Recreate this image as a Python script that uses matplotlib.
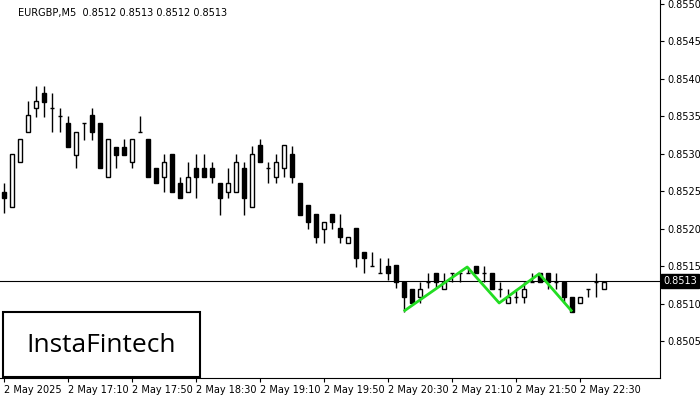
import matplotlib
matplotlib.use("Agg")
import matplotlib.pyplot as plt
from matplotlib.patches import Rectangle

opens = [0.85249,0.85229,0.85289,0.85329,0.85361,0.85381,0.85361,0.85351,0.85341,0.85299,
         0.85341,0.85351,0.85341,0.85269,0.85309,0.85309,0.85289,0.85329,0.85320,0.85281,
         0.85269,0.85300,0.85261,0.85249,0.85281,0.85281,0.85281,0.85261,0.85249,0.85249,
         0.85281,0.85229,0.85311,0.85281,0.85269,0.85281,0.85300,0.85261,0.85231,0.85220,
         0.85200,0.85220,0.85201,0.85181,0.85201,0.85169,0.85151,0.85141,0.85151,0.85151,
         0.85129,0.85120,0.85109,0.85129,0.85141,0.85120,0.85141,0.85141,0.85141,0.85151,
         0.85141,0.85141,0.85120,0.85101,0.85109,0.85109,0.85129,0.85141,0.85141,0.85129,
         0.85129,0.85109,0.85101,0.85120,0.85129,0.85120]
highs = [0.85261,0.85300,0.85320,0.85371,0.85391,0.85391,0.85381,0.85361,0.85351,0.85329,
         0.85341,0.85361,0.85341,0.85320,0.85309,0.85320,0.85320,0.85351,0.85320,0.85281,
         0.85300,0.85300,0.85269,0.85289,0.85300,0.85300,0.85289,0.85261,0.85281,0.85300,
         0.85289,0.85311,0.85320,0.85289,0.85300,0.85311,0.85311,0.85261,0.85231,0.85220,
         0.85209,0.85220,0.85220,0.85189,0.85201,0.85169,0.85169,0.85161,0.85161,0.85151,
         0.85129,0.85120,0.85129,0.85141,0.85141,0.85141,0.85141,0.85141,0.85149,0.85151,
         0.85151,0.85141,0.85129,0.85120,0.85120,0.85129,0.85141,0.85141,0.85141,0.85141,
         0.85129,0.85109,0.85109,0.85120,0.85141,0.85129]
lows = [0.85221,0.85229,0.85289,0.85329,0.85349,0.85349,0.85329,0.85329,0.85309,0.85281,
        0.85319,0.85319,0.85281,0.85269,0.85281,0.85299,0.85281,0.85329,0.85269,0.85261,
        0.85249,0.85249,0.85241,0.85249,0.85241,0.85269,0.85261,0.85219,0.85241,0.85249,
        0.85219,0.85229,0.85289,0.85261,0.85261,0.85269,0.85261,0.85219,0.85200,0.85181,
        0.85181,0.85200,0.85181,0.85181,0.85149,0.85141,0.85151,0.85141,0.85132,0.85121,
        0.85089,0.85101,0.85101,0.85121,0.85121,0.85120,0.85129,0.85129,0.85141,0.85141,
        0.85129,0.85120,0.85109,0.85101,0.85101,0.85101,0.85129,0.85129,0.85120,0.85120,
        0.85101,0.85089,0.85101,0.85109,0.85109,0.85120]
closes = [0.85241,0.85300,0.85320,0.85351,0.85371,0.85369,0.85361,0.85351,0.85309,0.85329,
          0.85341,0.85329,0.85281,0.85320,0.85299,0.85299,0.85320,0.85329,0.85269,0.85261,
          0.85289,0.85249,0.85241,0.85269,0.85269,0.85269,0.85269,0.85241,0.85261,0.85289,
          0.85241,0.85300,0.85289,0.85281,0.85289,0.85311,0.85269,0.85219,0.85209,0.85189,
          0.85209,0.85209,0.85189,0.85189,0.85161,0.85161,0.85151,0.85141,0.85141,0.85129,
          0.85109,0.85101,0.85120,0.85129,0.85129,0.85129,0.85141,0.85141,0.85141,0.85141,
          0.85141,0.85120,0.85120,0.85109,0.85109,0.85120,0.85129,0.85129,0.85129,0.85129,
          0.85109,0.85089,0.85109,0.85120,0.85129,0.85129]

pattern_idx = [50.1, 57.9, 61.9, 66.9, 70.9]
pattern_px = [0.85091, 0.85149, 0.85101, 0.85140, 0.85091]

current_price = 0.8513
yticks = [0.8505,0.8510,0.8515,0.8520,0.8525,0.8530,0.8535,0.8540,0.8545,0.8550]
xtick_idx = [0,8,16,24,32,40,48,56,64,72]
xtick_labels = ["2 May 2025","2 May 17:10","2 May 17:50","2 May 18:30","2 May 19:10",
                "2 May 19:50","2 May 20:30","2 May 21:10","2 May 21:50","2 May 22:30"]
title = "EURGBP,M5  0.8512 0.8513 0.8512 0.8513"

fig = plt.figure(figsize=(7,4), dpi=100)
ax = fig.add_axes([0, 22/400, 660/700, 378/400])
ax.set_xlim(-0.5, 82)
ax.set_ylim(0.85001, 0.85505)

w = 0.6
for i,(o,h,l,c) in enumerate(zip(opens,highs,lows,closes)):
    ax.vlines(i, l, h, color='black', lw=1, zorder=2)
    if abs(o-c) < 1e-6:
        ax.hlines(o, i-w/2, i+w/2, color='black', lw=1, zorder=3)
    else:
        fc = 'white' if c > o else 'black'
        ax.add_patch(Rectangle((i-w/2, min(o,c)), w, abs(c-o), facecolor=fc,
                               edgecolor='black', lw=1, zorder=3))

ax.axhline(current_price, color='black', lw=0.8, zorder=1)
ax.plot(pattern_idx, pattern_px, color='#22dd22', lw=2, zorder=4)

ax.yaxis.tick_right()
ax.set_yticks(yticks)
ax.set_yticklabels([f"{v:.4f}" for v in yticks], fontsize=7)
ax.set_xticks(xtick_idx)
ax.set_xticklabels(xtick_labels, fontsize=7, ha='left')
ax.tick_params(axis='both', length=3, width=0.8, pad=2)
for s in ['top','left']:
    ax.spines[s].set_visible(False)
ax.text(82.4, current_price, "0.8513", fontsize=7, color='white',
        va='center', ha='left', bbox=dict(boxstyle='square,pad=0.2', fc='black', ec='black'),
        clip_on=False, zorder=5)
ax.text(18/660, 1-13/378, title, transform=ax.transAxes, fontsize=7, va='center')

fig.patches.append(Rectangle((3/700, 23/400), 197/700, 65/400, transform=fig.transFigure,
                             fc='white', ec='black', lw=1.5, zorder=10))
fig.text(101/700, 55/400, "InstaFintech", fontsize=19, ha='center', va='center',
         family='Open Sans', zorder=11)

fig.savefig("out.png", dpi=100)
